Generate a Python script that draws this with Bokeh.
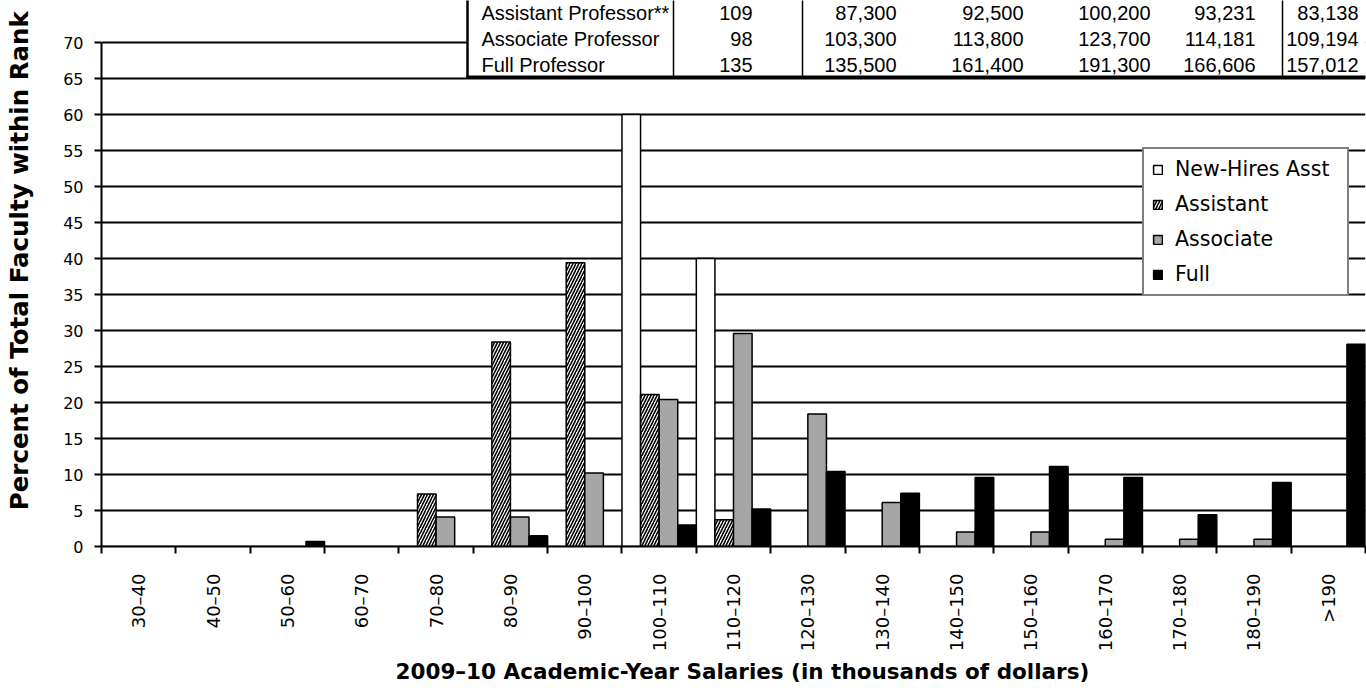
import numpy as np
from math import pi
from bokeh.plotting import figure
from bokeh.models import Range1d, FixedTicker, Legend, LegendItem, Title
from bokeh.core.properties import value
from bokeh.embed import file_html
from bokeh.resources import INLINE

# ---------------- data ----------------
categories = ["30–40", "40–50", "50–60", "60–70", "70–80", "80–90", "90–100", "100–110",
              "110–120", "120–130", "130–140", "140–150", "150–160", "160–170", "170–180",
              "180–190", ">190"]
new_hires = [0, 0, 0, 0, 0, 0, 0, 60, 40, 0, 0, 0, 0, 0, 0, 0, 0]
assistant = [0, 0, 0, 0, 7.3, 28.4, 39.4, 21.1, 3.7, 0, 0, 0, 0, 0, 0, 0, 0]
associate = [0, 0, 0, 0, 4.1, 4.1, 10.2, 20.4, 29.6, 18.4, 6.1, 2.0, 2.0, 1.0, 1.0, 1.0, 0]
full = [0, 0, 0.7, 0, 0, 1.5, 0, 3.0, 5.2, 10.4, 7.4, 9.6, 11.1, 9.6, 4.4, 8.9, 28.1]
series_names = ["New-Hires Asst", "Assistant", "Associate", "Full"]

yticks = list(range(0, 75, 5))

table_ranks = ["Assistant Professor**", "Associate Professor", "Full Professor"]
table_counts = ["109", "98", "135"]
table_c1 = ["87,300", "103,300", "135,500"]
table_c2 = ["92,500", "113,800", "161,400"]
table_c3 = ["100,200", "123,700", "191,300"]
table_c4 = ["93,231", "114,181", "166,606"]
table_c5 = ["83,138", "109,194", "157,012"]

x_title = "2009–10 Academic-Year Salaries (in thousands of dollars)"
y_title = "Percent of Total Faculty within Rank"

# ---------------- layout constants ----------------
W, H = 1366, 688
LEFT, RIGHT, BOTTOM = 101, 1, 142
NCAT = len(categories)
PX_X = (W - LEFT - RIGHT) / NCAT
PX_Y = 7.2
YTOP = (H - BOTTOM) / PX_Y


def rx(xp):
    return (xp - LEFT) / PX_X


def ry(yp):
    return (H - BOTTOM - yp) / PX_Y


p = figure(width=W, height=H, x_range=Range1d(0, NCAT), y_range=Range1d(0, YTOP),
           output_backend="svg", toolbar_location=None,
           min_border_left=LEFT, min_border_right=RIGHT, min_border_top=0,
           min_border_bottom=BOTTOM)
p.title.visible = False
p.outline_line_color = None
p.background_fill_color = "white"
p.border_fill_color = "white"

FONT = "DejaVu Sans"

# grid
p.xgrid.visible = False
p.ygrid.ticker = FixedTicker(ticks=yticks)
p.ygrid.grid_line_color = "black"
p.ygrid.grid_line_width = 2

# y axis
p.yaxis.ticker = FixedTicker(ticks=yticks, minor_ticks=[])
p.yaxis.bounds = (0, 70)
p.yaxis.axis_line_width = 2
p.yaxis.axis_line_color = "black"
p.yaxis.major_tick_out = 7
p.yaxis.major_tick_in = 0
p.yaxis.major_tick_line_width = 2
p.yaxis.major_tick_line_color = "black"
p.yaxis.minor_tick_line_color = None
p.yaxis.major_label_text_font = FONT
p.yaxis.major_label_text_font_size = "16px"
p.yaxis.major_label_text_color = "black"
p.yaxis.major_label_standoff = 11
# three no-break spaces at the start lift the centred title to where the original sits
p.yaxis.axis_label = "\u00a0\u00a0\u00a0" + y_title
p.yaxis.axis_label_text_font = FONT
p.yaxis.axis_label_text_font_style = "bold"
p.yaxis.axis_label_text_font_size = "24.5px"
p.yaxis.axis_label_text_color = "black"
p.yaxis.axis_label_standoff = 26

# x axis
centers = [i + 0.5 for i in range(NCAT)]
p.xaxis.ticker = FixedTicker(ticks=centers, minor_ticks=list(range(NCAT + 1)))
p.xaxis.major_label_overrides = {c: lab for c, lab in zip(centers, categories)}
p.xaxis.bounds = (0, NCAT)
p.xaxis.axis_line_width = 2
p.xaxis.axis_line_color = "black"
p.xaxis.major_tick_line_color = None
p.xaxis.major_tick_out = 0
p.xaxis.major_tick_in = 0
p.xaxis.minor_tick_out = 7
p.xaxis.minor_tick_in = 0
p.xaxis.minor_tick_line_width = 2
p.xaxis.minor_tick_line_color = "black"
p.xaxis.major_label_orientation = pi / 2
p.xaxis.major_label_standoff = 20
p.xaxis.major_label_text_font = FONT
p.xaxis.major_label_text_font_size = "18px"
p.xaxis.major_label_text_color = "black"

# x title
p.add_layout(Title(text=x_title, align="left", text_font=FONT, text_font_style="bold",
                   text_font_size="21.5px", text_color="black", standoff=5, offset=294),
             "below")

# bars
xs = np.arange(NCAT)
bw = 0.25
r_new = p.vbar(x=xs + 0.125, top=new_hires, width=bw, bottom=0, fill_color="white",
               line_color="black", line_width=1.5)
r_asst = p.vbar(x=xs + 0.375, top=assistant, width=bw, bottom=0, fill_color="white",
                line_color="black", line_width=1.5, hatch_pattern="/", hatch_color="black",
                hatch_scale=6, hatch_weight=1.6)
r_assoc = p.vbar(x=xs + 0.625, top=associate, width=bw, bottom=0, fill_color="#a6a6a6",
                 line_color="black", line_width=1.5)
r_full = p.vbar(x=xs + 0.875, top=full, width=bw, bottom=0, fill_color="black",
                line_color="black", line_width=1.5)

# summary table overlapping the top of the chart
p.quad(left=[rx(467)], right=[NCAT + 1], bottom=[ry(77)], top=[YTOP + 1], fill_color="white",
       line_color=None)
p.segment(x0=[rx(467)], y0=[YTOP + 1], x1=[rx(467)], y1=[ry(78)], line_color="black",
          line_width=2.5)
p.segment(x0=[rx(673), rx(802), rx(1282)], y0=[YTOP + 1] * 3,
          x1=[rx(673), rx(802), rx(1282)], y1=[ry(77)] * 3, line_color="black",
          line_width=1.5)
p.segment(x0=[rx(466)], y0=[ry(76.5)], x1=[NCAT + 1], y1=[ry(76.5)], line_color="black",
          line_width=3)

row_y = [ry(12), ry(38.5), ry(64)]
TFONT = value("Liberation Sans")
p.text(x=[rx(481)] * 3, y=row_y, text=table_ranks, text_align="left",
       text_baseline="middle", text_font=TFONT, text_font_size="20px", text_color="black")
for col, xr in zip([table_counts, table_c1, table_c2, table_c3, table_c4, table_c5],
                   [752, 896, 1023, 1150, 1255, 1358]):
    p.text(x=[rx(xr)] * 3, y=row_y, text=col, text_align="right",
           text_baseline="middle", text_font=TFONT, text_font_size="20px",
           text_color="black")

# legend
legend = Legend(items=[LegendItem(label=n, renderers=[r]) for n, r in
                       zip(series_names, [r_new, r_asst, r_assoc, r_full])],
                location=(1041, 250), margin=0, padding=8, spacing=11,
                label_height=23, label_width=164, glyph_width=11, glyph_height=11,
                label_standoff=12, border_line_color="black", border_line_width=2,
                background_fill_color="white", background_fill_alpha=1.0,
                label_text_font=FONT, label_text_font_size="20.5px",
                label_text_color="black")
p.add_layout(legend, "center")

open("out.html", "w").write(file_html(p, INLINE))
